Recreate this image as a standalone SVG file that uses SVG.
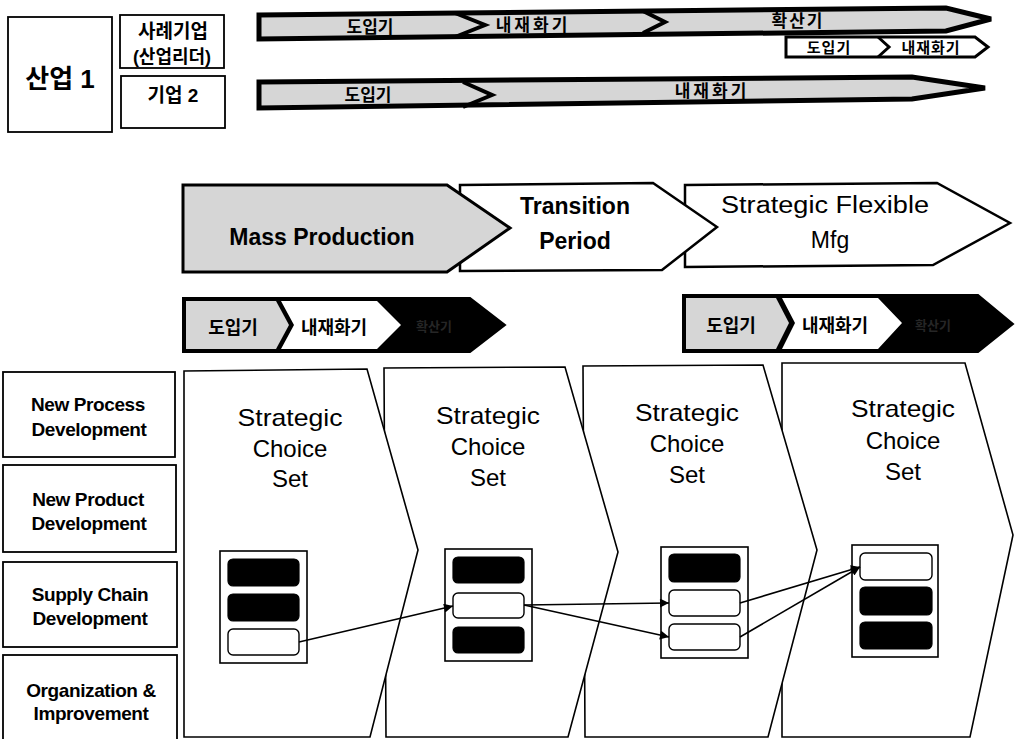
<svg xmlns="http://www.w3.org/2000/svg" width="1015" height="739" viewBox="0 0 1015 739">
<defs>
<marker id="arr" viewBox="0 0 10 10" refX="10" refY="5" markerWidth="11" markerHeight="9" markerUnits="userSpaceOnUse" orient="auto">
<path d="M0,0 L10,5 L0,10 z" fill="#000"/>
</marker>
</defs>
<style>
.kr{font-family:"Liberation Sans","Noto Sans CJK KR",sans-serif;font-weight:bold;fill:#000;text-anchor:middle}
.en{font-family:"Liberation Sans",Arial,sans-serif;fill:#000;text-anchor:middle}
.b{font-weight:bold}
.box{fill:#fff;stroke:#000;stroke-width:1.8}
.gray{fill:#d6d6d6}
.bar{fill:#d6d6d6;stroke:#000;stroke-width:5;stroke-linejoin:miter}
.sep{fill:none;stroke:#000;stroke-width:4}
.chev{fill:#fff;stroke:#000;stroke-width:1.6}
.cs{fill:#fff;stroke:#000;stroke-width:1.6}
.pb{fill:#000;stroke:#000;stroke-width:1.2}
.pw{fill:#fff;stroke:#000;stroke-width:1.4}
.conn{fill:none;stroke:#000;stroke-width:1.6;marker-end:url(#arr)}
.lbl{font-size:19px;font-weight:bold;letter-spacing:-0.4px}
</style>
<rect width="1015" height="739" fill="#fff"/>

<g id="industry1">
<rect class="box" x="8" y="17" width="104" height="115"/>
<text class="kr" x="60" y="88" font-size="26">산업 1</text>
</g>
<g id="company-leader">
<rect class="box" x="120" y="15" width="104" height="53"/>
<text class="kr" x="173" y="38" font-size="19">사례기업</text>
<text class="kr" x="172" y="63" font-size="18">(산업리더)</text>
</g>
<g id="company2">
<rect class="box" x="121" y="76" width="104" height="52"/>
<text class="kr" x="173" y="102" font-size="19">기업 2</text>
</g>

<g id="bar1">
<polygon class="bar" points="259,15 946,8 991,19 946,31 259,39"/>
<polyline class="sep" points="455,13 485,25 455,37"/>
<polyline class="sep" points="643,11 665,22 643,33"/>
<text class="kr" x="370" y="33" font-size="17">도입기</text>
<text class="kr" x="533" y="31" font-size="17" letter-spacing="3">내재화기</text>
<text class="kr" x="798" y="27" font-size="17" letter-spacing="2">확산기</text>
</g>
<g id="bar1-sub">
<polygon points="786,37 975,37 988,47 975,57 786,57" fill="#fff" stroke="#000" stroke-width="3"/>
<polyline points="878,37 889,47 878,57" fill="none" stroke="#000" stroke-width="3"/>
<text class="kr" x="829" y="53" font-size="15" letter-spacing="1">도입기</text>
<text class="kr" x="931" y="53" font-size="15" letter-spacing="1">내재화기</text>
</g>

<g id="bar2">
<polygon class="bar" points="259,82 912,77 985,88 912,99 259,108"/>
<polyline class="sep" points="463,82 492,95 463,107"/>
<text class="kr" x="368" y="101" font-size="17">도입기</text>
<text class="kr" x="712" y="97" font-size="17" letter-spacing="3">내재화기</text>
</g>

<g id="strategic-flexible">
<polygon points="685,185 937,183 1010,223 933,265 685,267" fill="#fff" stroke="#000" stroke-width="2.5"/>
<text class="en" x="825" y="213" font-size="23" textLength="208" lengthAdjust="spacingAndGlyphs">Strategic Flexible</text>
<text class="en" x="830" y="248" font-size="23">Mfg</text>
</g>
<g id="transition">
<polygon points="460,185 653,183 717,227 662,270 460,271" fill="#fff" stroke="#000" stroke-width="2.5"/>
<text class="en b" x="575" y="214" font-size="23">Transition</text>
<text class="en b" x="575" y="249" font-size="23">Period</text>
</g>
<g id="mass-production">
<polygon points="183,185 447,185 510,228 447,272 183,272" fill="#d6d6d6" stroke="#000" stroke-width="3"/>
<text class="en b" x="322" y="245" font-size="23">Mass Production</text>
</g>

<g id="stages-left">
<polygon points="183,298 470,298 505,325 470,352 183,352" fill="#000" stroke="#000" stroke-width="2"/>
<polygon class="gray" points="186,301 276,301 289,325 276,349 186,349"/>
<polygon points="281,301 377,301 401,325 377,349 281,349 294,325" fill="#fff"/>
<text class="kr" x="233" y="334" font-size="18">도입기</text>
<text class="kr" x="334" y="334" font-size="18">내재화기</text>
<text class="kr" x="434" y="331" font-size="13" style="fill:#262626">확산기</text>
</g>
<g id="stages-right">
<polygon points="683,295 978,295 1013,324 978,352 683,352" fill="#000" stroke="#000" stroke-width="2"/>
<polygon class="gray" points="686,298 776,298 789,323 776,349 686,349"/>
<polygon points="782,298 878,298 902,323 878,349 782,349 795,323" fill="#fff"/>
<text class="kr" x="731" y="332" font-size="18">도입기</text>
<text class="kr" x="835" y="332" font-size="18">내재화기</text>
<text class="kr" x="933" y="330" font-size="13" style="fill:#262626">확산기</text>
</g>

<g id="label-process">
<rect class="box" x="3" y="372" width="172" height="85"/>
<text class="en lbl" x="88" y="411">New Process</text>
<text class="en lbl" x="89" y="436">Development</text>
</g>
<g id="label-product">
<rect class="box" x="3" y="465" width="173" height="87"/>
<text class="en lbl" x="88" y="506">New Product</text>
<text class="en lbl" x="89" y="530">Development</text>
</g>
<g id="label-supply">
<rect class="box" x="3" y="562" width="174" height="85"/>
<text class="en lbl" x="90" y="601">Supply Chain</text>
<text class="en lbl" x="90" y="625">Development</text>
</g>
<g id="label-org">
<rect class="box" x="3" y="655" width="174" height="90"/>
<text class="en lbl" x="91" y="697">Organization &amp;</text>
<text class="en lbl" x="91" y="720">Improvement</text>
</g>

<g id="set4">
<polygon class="chev" points="782,363 965,363 1013,535 970,737 782,737"/>
<text class="en" x="903" y="417" font-size="24" textLength="104" lengthAdjust="spacingAndGlyphs">Strategic</text>
<text class="en" x="903" y="449" font-size="24">Choice</text>
<text class="en" x="903" y="480" font-size="24">Set</text>
<rect class="cs" x="852" y="545" width="86" height="112"/>
<rect class="pw" x="860" y="553" width="72" height="27" rx="5"/>
<rect class="pb" x="860" y="587" width="72" height="28" rx="5"/>
<rect class="pb" x="860" y="622" width="72" height="27" rx="5"/>
</g>
<g id="set3">
<polygon class="chev" points="583,366 763,365 817,550 768,737 585,737"/>
<text class="en" x="687" y="421" font-size="24" textLength="104" lengthAdjust="spacingAndGlyphs">Strategic</text>
<text class="en" x="687" y="452" font-size="24">Choice</text>
<text class="en" x="687" y="483" font-size="24">Set</text>
<rect class="cs" x="661" y="547" width="87" height="111"/>
<rect class="pb" x="669" y="554" width="71" height="28" rx="5"/>
<rect class="pw" x="669" y="590" width="71" height="26" rx="5"/>
<rect class="pw" x="669" y="624" width="71" height="26" rx="5"/>
</g>
<g id="set2">
<polygon class="chev" points="384,368 565,367 618,552 568,737 386,737"/>
<text class="en" x="488" y="424" font-size="24" textLength="104" lengthAdjust="spacingAndGlyphs">Strategic</text>
<text class="en" x="488" y="455" font-size="24">Choice</text>
<text class="en" x="488" y="486" font-size="24">Set</text>
<rect class="cs" x="445" y="549" width="87" height="112"/>
<rect class="pb" x="453" y="557" width="71" height="26" rx="5"/>
<rect class="pw" x="453" y="593" width="71" height="25" rx="5"/>
<rect class="pb" x="453" y="627" width="71" height="26" rx="5"/>
</g>
<g id="set1">
<polygon class="chev" points="184,371 367,369 418,550 370,737 184,737"/>
<text class="en" x="290" y="426" font-size="24" textLength="105" lengthAdjust="spacingAndGlyphs">Strategic</text>
<text class="en" x="290" y="457" font-size="24">Choice</text>
<text class="en" x="290" y="487" font-size="24">Set</text>
<rect class="cs" x="220" y="551" width="87" height="112"/>
<rect class="pb" x="228" y="559" width="71" height="27" rx="5"/>
<rect class="pb" x="228" y="594" width="71" height="27" rx="5"/>
<rect class="pw" x="228" y="629" width="71" height="26" rx="5"/>
</g>

<g id="connectors">
<line class="conn" x1="299" y1="642" x2="453" y2="606"/>
<line class="conn" x1="524" y1="605" x2="669" y2="603"/>
<line class="conn" x1="524" y1="605" x2="669" y2="637"/>
<line class="conn" x1="740" y1="603" x2="860" y2="567"/>
<line class="conn" x1="740" y1="637" x2="860" y2="567"/>
</g>
</svg>
